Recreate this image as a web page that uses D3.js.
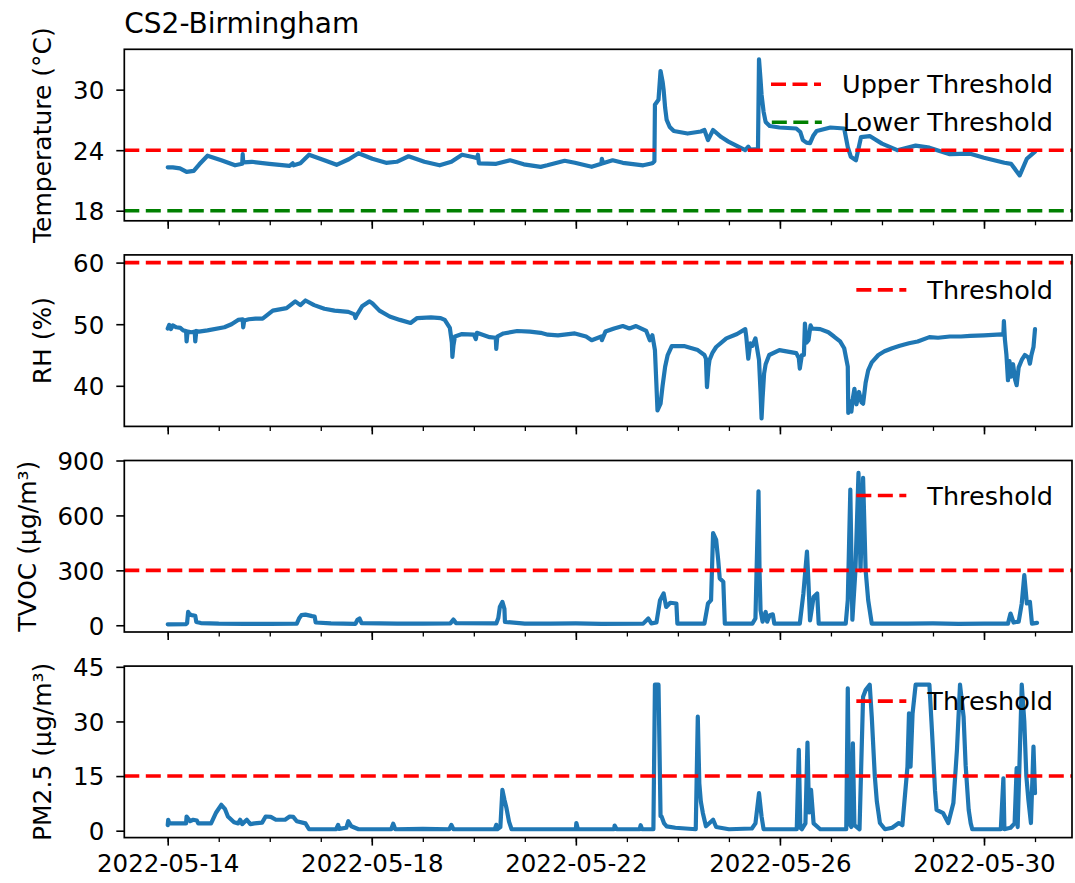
<!DOCTYPE html>
<html>
<head>
<meta charset="utf-8">
<script src="https://cdn.jsdelivr.net/npm/d3@7"></script>
<style>
  body { margin: 0; background: #ffffff; }
  svg { display: block; }
  text { font-family: "DejaVu Sans", sans-serif; fill: #000; }
</style>
</head>
<body>
<svg id="chart" width="1075" height="883"></svg>
<script>
// ---- Data: [days since 2022-05-14 00:00 UTC, value] ----
const seriesStart = "2022-05-14";
const titleText = "CS2-Birmingham";

const majorTickLabels = ["2022-05-14", "2022-05-18", "2022-05-22", "2022-05-26", "2022-05-30"];

const tempTicks = [18, 24, 30];
const rhTicks = [40, 50, 60];
const tvocTicks = [0, 300, 600, 900];
const pmTicks = [0, 15, 30, 45];

const tempUpperThreshold = 24;
const tempLowerThreshold = 18;
const rhThreshold = 60;
const tvocThreshold = 300;
const pmThreshold = 15;

const temperature = [
  [0.00,22.3],[0.10,22.3],[0.24,22.2],[0.37,21.85],[0.51,21.95],[0.62,22.6],[0.78,23.45],[1.05,23.0],
  [1.32,22.5],[1.46,22.65],[1.47,23.6],[1.48,22.8],[1.65,22.85],[1.99,22.65],[2.39,22.45],[2.45,22.7],
  [2.47,22.5],[2.60,22.7],[2.77,23.55],[3.07,23.0],[3.31,22.55],[3.55,23.1],[3.74,23.7],[4.01,23.15],
  [4.28,22.75],[4.49,22.85],[4.72,23.4],[5.03,22.85],[5.33,22.5],[5.56,22.85],[5.77,23.55],[6.00,23.3],
  [6.07,23.2],[6.08,23.55],[6.10,22.7],[6.44,22.65],[6.71,23.0],[6.98,22.6],[7.31,22.35],[7.44,22.5],
  [7.78,22.95],[7.98,22.75],[8.31,22.35],[8.50,22.65],[8.51,23.15],[8.53,22.7],[8.72,23.0],[8.92,22.75],
  [9.32,22.5],[9.50,22.7],[9.54,22.9],[9.55,28.5],[9.62,29.0],[9.66,31.85],[9.70,30.8],[9.72,30.0],[9.75,28.2],
  [9.78,27.0],[9.84,26.3],[9.92,25.9],[10.19,25.65],[10.45,25.85],[10.52,26.0],[10.59,25.0],[10.69,26.0],
  [10.85,25.3],[10.99,24.85],[11.32,24.0],[11.38,24.35],[11.42,24.05],[11.57,24.1],[11.59,33.0],[11.62,31.0],
  [11.64,29.5],[11.68,27.8],[11.72,26.8],[11.80,26.4],[11.99,26.25],[12.32,26.15],[12.40,25.8],[12.45,25.0],
  [12.52,24.75],[12.59,24.7],[12.65,25.4],[12.72,25.9],[12.99,26.25],[13.26,26.15],[13.33,24.3],[13.39,23.35],
  [13.49,23.0],[13.59,25.3],[13.76,25.4],[14.00,24.65],[14.30,24.0],[14.66,24.45],[14.93,24.25],[15.33,23.6],
  [15.73,23.65],[16.00,23.25],[16.40,22.75],[16.53,22.65],[16.70,21.5],[16.84,23.15],[17.00,23.85]
];

const humidity = [
  [0.00,49.3],[0.03,49.9],[0.06,49.2],[0.10,49.8],[0.17,49.5],[0.25,49.4],[0.30,49.0],[0.36,48.9],[0.37,47.2],
  [0.39,48.8],[0.47,48.7],[0.53,48.8],[0.54,47.2],[0.56,48.9],[0.61,48.8],[0.78,49.0],[1.11,49.5],[1.25,50.0],
  [1.38,50.7],[1.47,50.8],[1.48,49.5],[1.50,50.6],[1.59,50.8],[1.72,50.9],[1.86,50.9],[2.06,52.2],[2.33,52.6],
  [2.50,53.7],[2.60,53.1],[2.70,53.85],[2.87,53.1],[3.07,52.5],[3.27,52.2],[3.54,52.0],[3.66,51.6],[3.68,51.0],
  [3.70,51.4],[3.81,52.9],[3.95,53.7],[4.01,53.4],[4.15,52.2],[4.35,51.25],[4.55,50.7],[4.76,50.2],[4.89,51.0],
  [5.16,51.1],[5.35,51.0],[5.43,50.7],[5.53,49.4],[5.57,47.0],[5.58,44.7],[5.60,46.5],[5.63,48.0],[5.77,48.4],
  [6.00,48.3],[6.04,47.6],[6.06,48.6],[6.31,47.9],[6.43,47.8],[6.44,46.0],[6.46,48.0],[6.58,48.5],[6.85,48.9],
  [7.10,48.8],[7.31,48.6],[7.45,48.3],[7.65,48.2],[7.98,48.5],[8.20,48.0],[8.31,47.4],[8.50,48.0],[8.51,47.4],
  [8.58,48.8],[8.75,49.3],[8.92,49.7],[9.05,49.3],[9.18,49.7],[9.38,48.9],[9.45,47.4],[9.50,48.2],[9.55,45.8],
  [9.58,40.0],[9.60,36.0],[9.66,37.1],[9.70,40.0],[9.75,43.1],[9.80,45.0],[9.88,46.45],[10.12,46.45],[10.39,45.8],
  [10.52,45.0],[10.55,44.4],[10.57,39.8],[10.60,43.0],[10.62,44.2],[10.68,45.4],[10.75,46.3],[10.95,47.7],
  [11.16,48.4],[11.32,49.2],[11.34,48.0],[11.38,44.4],[11.42,46.9],[11.46,46.5],[11.52,47.7],[11.59,44.2],
  [11.62,39.0],[11.64,34.7],[11.66,38.0],[11.69,42.0],[11.72,43.5],[11.79,45.0],[11.99,45.8],[12.32,45.3],
  [12.37,44.5],[12.39,42.8],[12.43,45.0],[12.47,45.0],[12.49,50.1],[12.52,47.0],[12.56,47.4],[12.60,49.8],
  [12.63,49.3],[12.79,49.2],[12.95,48.7],[13.06,48.0],[13.18,47.2],[13.26,46.1],[13.33,43.1],[13.34,35.6],
  [13.37,37.5],[13.40,35.8],[13.43,38.0],[13.46,39.5],[13.50,37.0],[13.55,39.0],[13.60,37.3],[13.63,37.1],
  [13.68,40.5],[13.73,42.5],[13.80,43.8],[13.93,45.0],[14.05,45.6],[14.20,46.1],[14.35,46.5],[14.53,46.9],
  [14.70,47.2],[14.93,47.9],[15.10,47.8],[15.33,48.0],[15.55,48.0],[15.73,48.1],[16.00,48.2],[16.34,48.35],
  [16.38,48.3],[16.39,50.5],[16.41,47.5],[16.44,45.0],[16.47,40.9],[16.50,44.0],[16.53,41.5],[16.57,43.5],
  [16.61,41.0],[16.64,40.1],[16.68,43.0],[16.74,44.2],[16.80,45.0],[16.87,44.6],[16.90,43.6],[16.93,45.0],
  [16.97,46.3],[17.00,49.2]
];

const tvoc = [
  [0.00,5],[0.36,6],[0.38,12],[0.40,73],[0.43,60],[0.47,55],[0.54,52],[0.56,18],[0.65,12],[1.00,9],[1.50,8],
  [2.00,8],[2.53,9],[2.58,40],[2.62,55],[2.70,58],[2.83,50],[2.88,48],[2.90,15],[3.20,10],[3.68,8],[3.72,30],
  [3.76,37],[3.80,12],[4.50,9],[5.00,9],[5.54,10],[5.60,31],[5.65,12],[6.44,10],[6.48,40],[6.51,100],[6.56,128],
  [6.60,90],[6.61,18],[7.00,9],[7.50,9],[8.00,10],[8.50,8],[9.32,9],[9.42,37],[9.48,10],[9.58,15],[9.65,137],
  [9.72,174],[9.77,100],[9.85,123],[9.97,119],[9.99,9],[10.52,9],[10.59,119],[10.65,137],[10.69,503],[10.75,466],
  [10.79,357],[10.82,256],[10.89,238],[10.92,9],[11.46,9],[11.52,37],[11.58,732],[11.60,300],[11.62,82],[11.66,20],
  [11.72,73],[11.75,20],[11.80,55],[11.86,60],[11.89,9],[12.39,9],[12.46,174],[12.53,402],[12.56,229],[12.59,27],
  [12.66,155],[12.73,174],[12.76,9],[13.29,9],[13.33,137],[13.38,741],[13.42,30],[13.48,300],[13.54,832],
  [13.58,300],[13.63,805],[13.68,300],[13.73,137],[13.80,9],[14.50,9],[15.00,10],[15.50,8],[16.00,9],[16.47,9],
  [16.52,64],[16.58,15],[16.68,20],[16.74,119],[16.79,274],[16.84,119],[16.90,128],[16.94,9],[17.04,13]
];

const pm25 = [
  [0.00,1.5],[0.01,3.0],[0.03,2.0],[0.36,2.0],[0.37,3.9],[0.44,2.6],[0.50,3.0],[0.57,2.8],[0.60,2.0],[0.85,2.0],
  [0.95,5.0],[1.05,7.1],[1.12,6.0],[1.18,3.9],[1.30,2.3],[1.38,2.0],[1.42,3.0],[1.46,1.8],[1.55,3.0],[1.62,1.8],
  [1.70,2.0],[1.85,2.2],[1.92,3.9],[2.02,3.8],[2.12,3.0],[2.30,3.0],[2.39,3.9],[2.46,3.8],[2.53,2.6],[2.70,2.0],
  [2.77,0.4],[3.30,0.4],[3.34,1.6],[3.36,0.5],[3.50,0.8],[3.54,2.6],[3.60,1.2],[3.74,0.4],[4.38,0.4],[4.42,1.9],
  [4.46,0.4],[5.00,0.5],[5.52,0.4],[5.56,1.6],[5.60,0.4],[6.41,0.4],[6.44,1.6],[6.46,0.4],[6.52,1.0],[6.56,11.2],
  [6.60,8.5],[6.64,6.2],[6.69,2.5],[6.74,0.4],[7.31,0.4],[8.00,0.4],[8.01,2.1],[8.04,0.4],[8.75,0.4],[8.76,1.4],
  [8.80,0.4],[9.25,0.4],[9.27,1.5],[9.30,0.4],[9.52,0.4],[9.55,40.1],[9.62,40.1],[9.64,22.2],[9.66,4.0],[9.68,3.9],
  [9.73,2.0],[9.78,1.2],[9.95,0.8],[10.35,0.4],[10.39,31.3],[10.42,13.0],[10.45,8.0],[10.49,4.8],[10.55,1.2],
  [10.69,3.0],[10.75,1.0],[11.00,0.4],[11.45,0.6],[11.52,2.0],[11.59,10.3],[11.64,3.9],[11.68,0.4],[12.33,0.4],
  [12.37,22.2],[12.40,0.8],[12.43,0.4],[12.50,2.0],[12.54,24.2],[12.57,5.0],[12.61,11.2],[12.66,2.0],[12.79,0.4],
  [13.30,0.4],[13.33,39.1],[13.36,2.0],[13.40,1.0],[13.43,24.0],[13.46,1.5],[13.56,0.4],[13.63,36.8],[13.68,38.6],
  [13.76,40.1],[13.80,31.3],[13.86,14.9],[13.90,8.0],[13.96,2.1],[14.06,0.4],[14.20,0.8],[14.33,2.1],[14.40,1.5],
  [14.50,17.6],[14.53,32.2],[14.56,17.6],[14.60,32.2],[14.66,40.1],[14.93,40.1],[14.97,30.0],[15.00,22.2],
  [15.04,11.0],[15.07,5.7],[15.20,4.8],[15.30,2.1],[15.40,7.6],[15.47,22.2],[15.53,40.1],[15.60,31.3],[15.64,18.0],
  [15.70,5.7],[15.74,2.0],[15.77,0.4],[16.33,0.4],[16.38,14.4],[16.40,0.4],[16.52,0.8],[16.60,2.0],[16.64,17.2],
  [16.66,1.0],[16.74,40.1],[16.79,30.0],[16.83,15.0],[16.87,8.5],[16.92,2.1],[16.97,23.1],[17.00,10.3]
];

// ---- Layout ----
const W = 1075, H = 883;
const axLeft = 124.3, axRight = 1072;
const panelTop0 = 49.3, panelStep = 205.6, panelH = 171.5;
const blue = "#1f77b4";
const tickFont = 24.5, labelFont = 25, legendFont = 25.5, titleFont = 28;

const dayMs = 864e5;
const t0 = Date.parse(seriesStart + "T00:00:00Z");
const toDate = d => new Date(t0 + d * dayMs);
const parseDay = d3.utcParse("%Y-%m-%d");
const fmtDay = d3.utcFormat("%Y-%m-%d");

// x scale shared by all panels (small padding either side of the record)
const x = d3.scaleUtc()
  .domain([toDate(-0.851), toDate(17.725)])
  .range([axLeft, axRight]);

const majorDates = majorTickLabels.map(parseDay);
const minorDates = d3.utcDay.range(toDate(-0.851), toDate(17.725));

const panels = [
  { data: temperature, domain: [17.0, 34.0], ticks: tempTicks, label: "Temperature (°C)",
    thresholds: [
      { value: tempUpperThreshold, color: "#ff0000", name: "Upper Threshold" },
      { value: tempLowerThreshold, color: "#008000", name: "Lower Threshold" }
    ] },
  { data: humidity, domain: [33.41, 61.25], ticks: rhTicks, label: "RH (%)",
    thresholds: [{ value: rhThreshold, color: "#ff0000", name: "Threshold" }] },
  { data: tvoc, domain: [-36.8, 900], ticks: tvocTicks, label: "TVOC (µg/m³)",
    thresholds: [{ value: tvocThreshold, color: "#ff0000", name: "Threshold" }] },
  { data: pm25, domain: [-1.9, 45.2], ticks: pmTicks, label: "PM2.5 (µg/m³)",
    thresholds: [{ value: pmThreshold, color: "#ff0000", name: "Threshold" }] }
];

const svg = d3.select("#chart");
svg.append("rect").attr("width", W).attr("height", H).attr("fill", "#fff");

panels.forEach((p, i) => {
  const top = panelTop0 + i * panelStep;
  const bottom = top + panelH;
  const y = d3.scaleLinear().domain(p.domain).range([bottom, top]);
  const g = svg.append("g");

  const clipId = "clip" + i;
  svg.append("clipPath").attr("id", clipId)
    .append("rect").attr("x", axLeft).attr("y", top).attr("width", axRight - axLeft).attr("height", panelH);

  // series line
  const line = d3.line().x(d => x(toDate(d[0]))).y(d => y(d[1]));
  g.append("path")
    .datum(p.data)
    .attr("clip-path", `url(#${clipId})`)
    .attr("fill", "none")
    .attr("stroke", blue)
    .attr("stroke-width", 4.2)
    .attr("stroke-linejoin", "round")
    .attr("stroke-linecap", "round")
    .attr("d", line);

  // threshold lines
  p.thresholds.forEach(t => {
    g.append("line")
      .attr("x1", axLeft).attr("x2", axRight)
      .attr("y1", y(t.value)).attr("y2", y(t.value))
      .attr("stroke", t.color)
      .attr("stroke-width", 3.6)
      .attr("stroke-dasharray", "15,6.5");
  });

  // y axis
  const yAxis = d3.axisLeft(y).tickValues(p.ticks).tickSize(8).tickPadding(12).tickFormat(d3.format("d"));
  const ya = svg.append("g").attr("transform", `translate(${axLeft},0)`).call(yAxis);
  ya.select(".domain").remove();
  ya.selectAll(".tick line").attr("stroke", "#000").attr("stroke-width", 1.6);
  ya.selectAll(".tick text")
    .attr("font-size", tickFont)
    .attr("font-family", "DejaVu Sans")
    .attr("dy", "0.36em");

  // x axis ticks (minor daily, major every four days)
  const xMinor = d3.axisBottom(x).tickValues(minorDates).tickSize(4.5).tickFormat("");
  const xm = svg.append("g").attr("transform", `translate(0,${bottom})`).call(xMinor);
  xm.select(".domain").remove();
  xm.selectAll(".tick line").attr("stroke", "#000").attr("stroke-width", 1.3);

  const xMajor = d3.axisBottom(x).tickValues(majorDates).tickSize(8).tickPadding(9)
    .tickFormat(i === panels.length - 1 ? fmtDay : () => "");
  const xa = svg.append("g").attr("transform", `translate(0,${bottom})`).call(xMajor);
  xa.select(".domain").remove();
  xa.selectAll(".tick line").attr("stroke", "#000").attr("stroke-width", 1.6);
  xa.selectAll(".tick text").attr("font-size", tickFont).attr("font-family", "DejaVu Sans");

  // frame
  svg.append("rect")
    .attr("x", axLeft).attr("y", top)
    .attr("width", axRight - axLeft).attr("height", panelH)
    .attr("fill", "none").attr("stroke", "#000").attr("stroke-width", 1.7);

  // y label placed left of the widest tick label
  let minLeft = Infinity;
  ya.selectAll(".tick text").each(function () {
    const b = this.getBBox();
    minLeft = Math.min(minLeft, axLeft + b.x);
  });
  const lx = minLeft - 22;
  svg.append("text")
    .attr("transform", `translate(${lx},${(top + bottom) / 2}) rotate(-90)`)
    .attr("text-anchor", "middle")
    .attr("font-size", labelFont)
    .text(p.label);

  // legend, right-aligned inside the panel
  const leg = svg.append("g");
  const textRight = 1053;
  p.thresholds.forEach((t, k) => {
    const ry = top + 35 + k * 38;
    const txt = leg.append("text")
      .attr("y", ry)
      .attr("dy", "0.36em")
      .attr("font-size", legendFont)
      .text(t.name);
    const w = txt.node().getComputedTextLength();
    const tx = textRight - w;
    txt.attr("x", tx);
    leg.append("line")
      .attr("x1", tx - 71).attr("x2", tx - 21)
      .attr("y1", ry).attr("y2", ry)
      .attr("stroke", t.color)
      .attr("stroke-width", 3.6)
      .attr("stroke-dasharray", "15,6.5");
  });
});

// title
svg.append("text")
  .attr("x", axLeft)
  .attr("y", 32.5)
  .attr("font-size", titleFont)
  .text(titleText);
</script>
</body>
</html>
